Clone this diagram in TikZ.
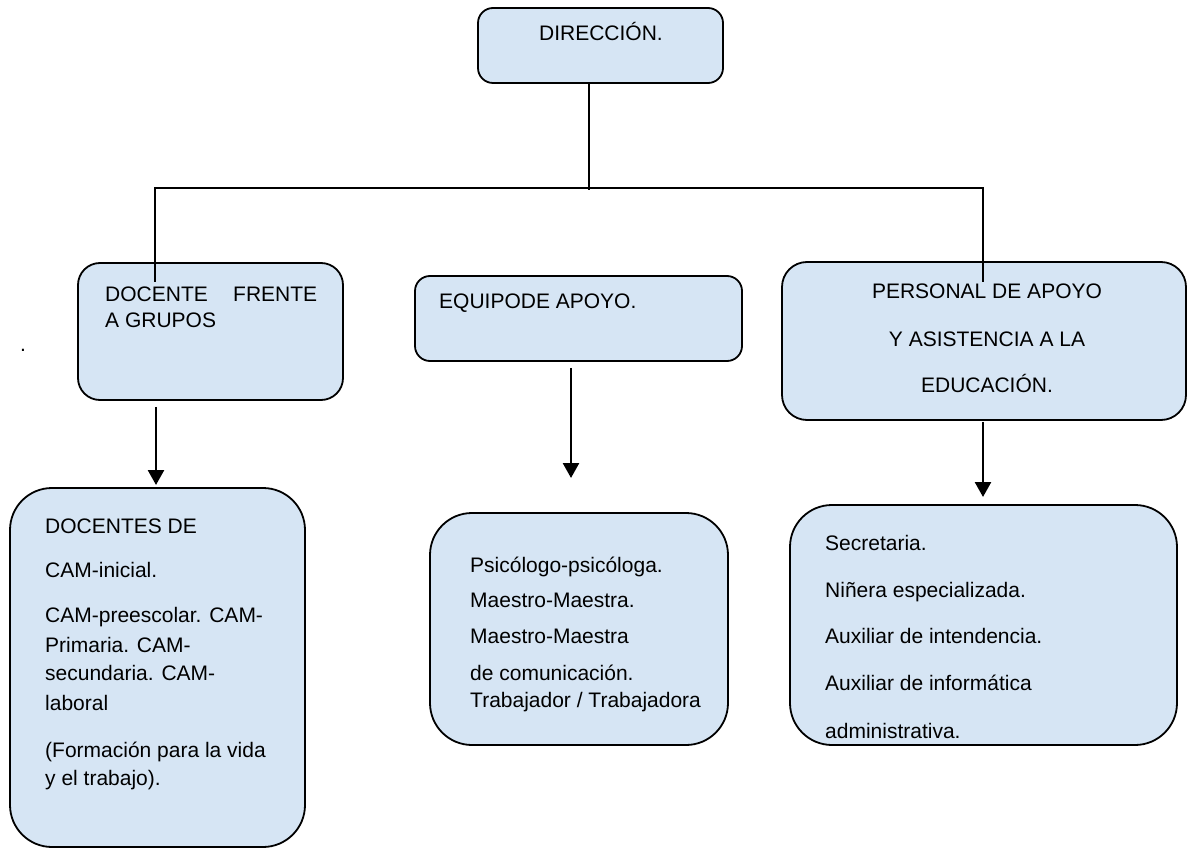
\documentclass[tikz,border=0pt]{standalone}
\usepackage{fontspec}
\setmainfont{Liberation Sans}
\usetikzlibrary{arrows.meta}
\definecolor{boxfill}{RGB}{214,229,244}
\tikzset{
  box/.style={draw=black, line width=1.8pt, fill=boxfill, inner sep=0pt, outer sep=0pt, anchor=north west},
  txt/.style={anchor=base west, inner sep=0pt, font=\fontsize{21}{25}\selectfont},
  ctxt/.style={anchor=base, inner sep=0pt, font=\fontsize{21}{25}\selectfont},
  conn/.style={line width=1.8pt},
  arr/.style={line width=2.6pt, -{Triangle[width=16pt,length=15pt]}}
}
\begin{document}
\begin{tikzpicture}[x=1pt,y=-1pt]
\useasboundingbox (0,0) rectangle (1187,850);
% boxes
\node[box, rounded corners=15pt, minimum width=245pt, minimum height=75pt] (dir) at (478,8) {};
\node[box, rounded corners=22pt, minimum width=265pt, minimum height=137pt] (doc) at (78,263) {};
\node[box, rounded corners=15pt, minimum width=327pt, minimum height=85pt] (equ) at (415,276) {};
\node[box, rounded corners=25pt, minimum width=404pt, minimum height=158pt] (per) at (782,262) {};
\node[box, rounded corners=42pt, minimum width=295pt, minimum height=359pt] (docs) at (10,488) {};
\node[box, rounded corners=42pt, minimum width=298pt, minimum height=232pt] (psi) at (430,513) {};
\node[box, rounded corners=42pt, minimum width=387pt, minimum height=240pt] (sec) at (790,505) {};
% texts
\node[ctxt] (t0) at (601,41) {DIRECCIÓN.};
\node[txt] (t1a) at (105,302) {DOCENTE};
\node[txt] (t1b) at (233,302) {FRENTE};
\node[txt] (t1c) at (105,328) {A GRUPOS};
\node[txt] (t2) at (439,309) {EQUIPODE APOYO.};
\node[ctxt] (t3a) at (987,299) {PERSONAL DE APOYO};
\node[ctxt] (t3b) at (987,347) {Y ASISTENCIA A LA};
\node[ctxt] (t3c) at (987,393) {EDUCACIÓN.};
\node[txt] (u1) at (45,533) {DOCENTES DE};
\node[txt] (u2) at (45,577) {CAM-inicial.};
\node[txt] (u3) at (45,622) {CAM-preescolar. CAM-};
\node[txt] (u4) at (45,652) {Primaria. CAM-};
\node[txt] (u5) at (45,680) {secundaria. CAM-};
\node[txt] (u6) at (45,710) {laboral};
\node[txt] (u7) at (45,757) {(Formación para la vida};
\node[txt] (u8) at (45,785) {y el trabajo).};
\node[txt] (v1) at (470,572) {Psicólogo-psicóloga.};
\node[txt] (v2) at (470,607) {Maestro-Maestra.};
\node[txt] (v3) at (470,643) {Maestro-Maestra};
\node[txt] (v4) at (470,680) {de comunicación.};
\node[txt] (v5) at (470,707) {Trabajador / Trabajadora};
\node[txt] (w1) at (825,550) {Secretaria.};
\node[txt] (w2) at (825,597) {Niñera especializada.};
\node[txt] (w3) at (825,643) {Auxiliar de intendencia.};
\node[txt] (w4) at (825,690) {Auxiliar de informática};
\node[txt] (w5) at (825,738) {administrativa.};
\node[txt] (dot) at (20,352) {.};
% connectors
\coordinate (j) at (589,190);
\coordinate (jl) at (155,188);
\coordinate (jr) at (983,188);
\coordinate (el) at (155,282);
\coordinate (er) at (983,282);
\draw[conn] (dir.south -| j) -- (j);
\draw[conn] (el) -- (jl) -- (jr) -- (er);
\coordinate (a1s) at (156,407);
\coordinate (a1e) at (156,485);
\coordinate (a2s) at (571,368);
\coordinate (a2e) at (571,478);
\coordinate (a3s) at (983,422);
\coordinate (a3e) at (983,497);
\draw[arr] (a1s) -- (a1e);
\draw[arr] (a2s) -- (a2e);
\draw[arr] (a3s) -- (a3e);
\end{tikzpicture}
\end{document}
